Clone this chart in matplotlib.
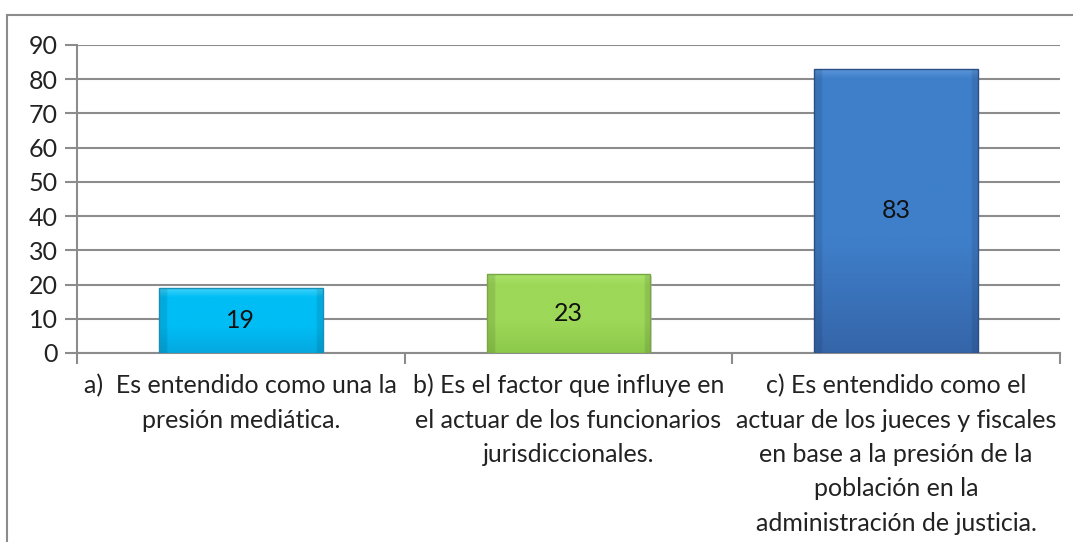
import numpy as np
import matplotlib
matplotlib.use("Agg")
import matplotlib.pyplot as plt
from matplotlib.colors import to_rgb
from matplotlib.lines import Line2D

categories = [
    "a)  Es entendido como una la\npresión mediática.",
    "b) Es el factor que influye en\nel actuar de los funcionarios\njurisdiccionales.",
    "c) Es entendido como el\nactuar de los jueces y fiscales\nen base a la presión de la\npoblación en la\nadministración de justicia.",
]
values = [19, 23, 83]
# (top colour, body colour, bottom colour) for each bar
bar_colors = [
    ("#45d6fb", "#00bdf5", "#05a8df"),
    ("#ace46e", "#9dd858", "#8cc84a"),
    ("#5c98da", "#3f7fca", "#3565a9"),
]
edge_colors = ["#1a8fb8", "#78a842", "#2a4f86"]

plt.rcParams['font.family'] = ['Lato', 'DejaVu Sans']

fig = plt.figure(figsize=(10.73, 5.42), dpi=100)
ax = fig.add_axes([77/1073, 1-353/542, (1060-77)/1073, (353-45)/542])

x = np.arange(len(values))
bars = ax.bar(x, values, width=0.5, color="none", edgecolor="none", zorder=3)

for b, cols, ec in zip(bars, bar_colors, edge_colors):
    x0, y0 = b.get_x(), b.get_y()
    w, h = b.get_width(), b.get_height()
    top, body, bot = [np.array(to_rgb(c)) for c in cols]
    n = 400
    yy = np.linspace(0, h, n)[:, None]
    grad = body + (bot - body) * np.clip((0.4 * h - yy) / (0.4 * h), 0, 1)[..., None]
    # bevel band at the top, fixed height in data units
    band = np.clip((yy - (h - 3.0)) / 3.0, 0, 1)[..., None]
    grad = grad + (top - grad) * band
    grad = np.repeat(grad, 80, axis=1)
    cols_t = np.linspace(0, 1, 80)[None, :, None]
    grad = grad * (1 - 0.10 * ((cols_t < 0.04) | (cols_t > 0.97)))
    grad = np.clip(grad, 0, 1)
    im = ax.imshow(grad, extent=[x0, x0 + w, y0, y0 + h], origin="lower",
                   aspect="auto", zorder=3, interpolation="bilinear")
    im.set_clip_path(b)
    # soft shadow
    ax.add_patch(plt.Rectangle((x0 + 0.004, y0 - 0.5), w, h, color="#b0b0b0",
                               alpha=0.5, zorder=2, lw=0))
    ax.add_patch(plt.Rectangle((x0, y0), w, h, fill=False, edgecolor=ec,
                               lw=1.0, zorder=4))
    ax.text(x0 + w / 2, y0 + h / 2, str(int(h)), ha="center", va="center",
            fontsize=18, color="#111111", zorder=5)

ax.set_xlim(-0.5, 2.5)
ax.set_ylim(0, 90)
ax.set_yticks(range(0, 91, 10))
ax.yaxis.grid(True, color="#8c8c8c", lw=1.5, zorder=0)
ax.set_axisbelow(True)

ax.set_xticks(x)
ax.set_xticklabels(categories, fontsize=18, linespacing=1.6, color="#222222")
ax.set_xticks([-0.5, 0.5, 1.5, 2.5], minor=True)
ax.tick_params(axis="x", which="major", length=0, pad=15)
ax.tick_params(axis="x", which="minor", length=8, color="#8c8c8c", width=1.5)
ax.tick_params(axis="y", length=9, color="#8c8c8c", width=1.5, labelsize=18,
               labelcolor="#222222", pad=5)

for s in ["top", "right"]:
    ax.spines[s].set_visible(False)
for s in ["left", "bottom"]:
    ax.spines[s].set_color("#8c8c8c")
    ax.spines[s].set_linewidth(1.5)

# chart frame (partly cut off)
fig.add_artist(Line2D([7/1073, 7/1073], [0, 1-15/542], color="#8c8c8c", lw=1.5))
fig.add_artist(Line2D([7/1073, 1], [1-15/542, 1-15/542], color="#8c8c8c", lw=1.5))

fig.savefig("out.png", dpi=100)
